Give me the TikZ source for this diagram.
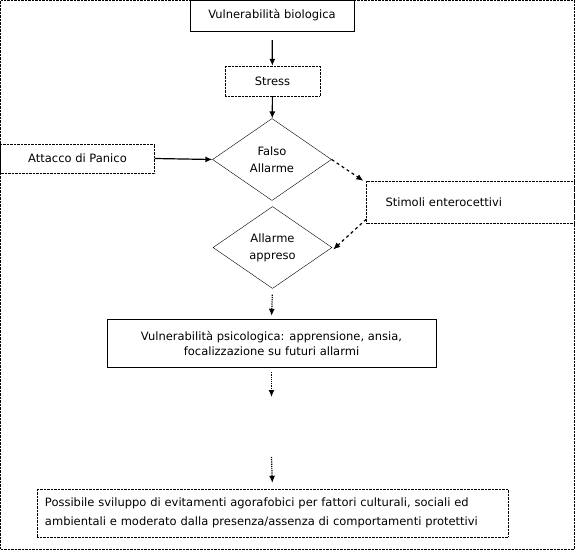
\documentclass[tikz,border=0pt]{standalone}
\usepackage{fontspec}
\setmainfont{DejaVu Sans}
\usetikzlibrary{shapes.geometric,arrows.meta}

\begin{document}
\begin{tikzpicture}[
                x=1pt,y=-1pt, % coordinate in pixel
                every node/.style={font=\fontsize{11.5}{17}\selectfont},
                box/.style={draw,rectangle,inner sep=0pt,align=center},
                boxpunti/.style={box,densely dotted},
                rombo/.style={draw,diamond,inner sep=0pt,minimum width=119pt,minimum height=82pt,align=center},
                freccia/.style={-{Latex[length=7pt,width=6pt]},line width=1.2pt},
                frecciapunti/.style={freccia,densely dotted},
            ]
            \useasboundingbox (0,0) rectangle (576,552);
            % cornice esterna
            \draw[densely dotted] (0.5,0.5) rectangle (574.5,549);

            % blocchi
            \node[box,minimum width=164pt,minimum height=31pt] (bio) at (272,15.5) {Vulnerabilità biologica};
            \node[boxpunti,minimum width=95pt,minimum height=30pt] (stress) at (272.5,81) {Stress};
            \node[rombo] (falso) at (272,159.5) {Falso\\Allarme};
            \node[boxpunti,minimum width=154pt,minimum height=29pt] (attacco) at (77.5,158.5) {Attacco di Panico};
            \node[boxpunti,minimum height=42pt,inner xsep=19pt,text width=170pt,align=left] (stimoli) at (470.5,202) {Stimoli enterocettivi};
            \node[rombo] (appreso) at (272.5,247.5) {Allarme\\appreso};
            \node[box,minimum width=329pt,minimum height=48pt,font=\fontsize{11.5}{15}\selectfont] (psico) at (271.5,343)
                {Vulnerabilità psicologica: apprensione, ansia,\\focalizzazione su futuri allarmi};
            \node[boxpunti,minimum width=471pt,minimum height=48pt,align=left,text width=455pt,font=\fontsize{11.5}{19}\selectfont] (possibile) at (272.5,513)
                {Possibile sviluppo di evitamenti agorafobici per fattori culturali, sociali ed\\ambientali e moderato dalla presenza/assenza di comportamenti protettivi};

            % punti liberi delle frecce spezzate
            \coordinate (g1) at (271.5,397);
            \coordinate (g2) at (271.5,457);

            % frecce
            \draw[freccia,shorten <=9pt] (bio) -- (stress);
            \draw[freccia] (stress) -- (falso);
            \draw[freccia] (attacco.east) -- (falso.west);
            \draw[freccia,dashed] (falso.east) -- ([xshift=-3pt]stimoli.north west);
            \draw[freccia,dashed] ([yshift=4pt]stimoli.south west) -- ([xshift=1pt,yshift=-2pt]appreso.east);
            \draw[frecciapunti,shorten <=6pt,shorten >=3pt] (appreso.south) -- (psico.north);
            \draw[frecciapunti,shorten <=5pt] (psico.south) -- (g1);
            \draw[frecciapunti,shorten >=6pt] (g2) -- (possibile.north);
            \end{tikzpicture}
\end{document}
